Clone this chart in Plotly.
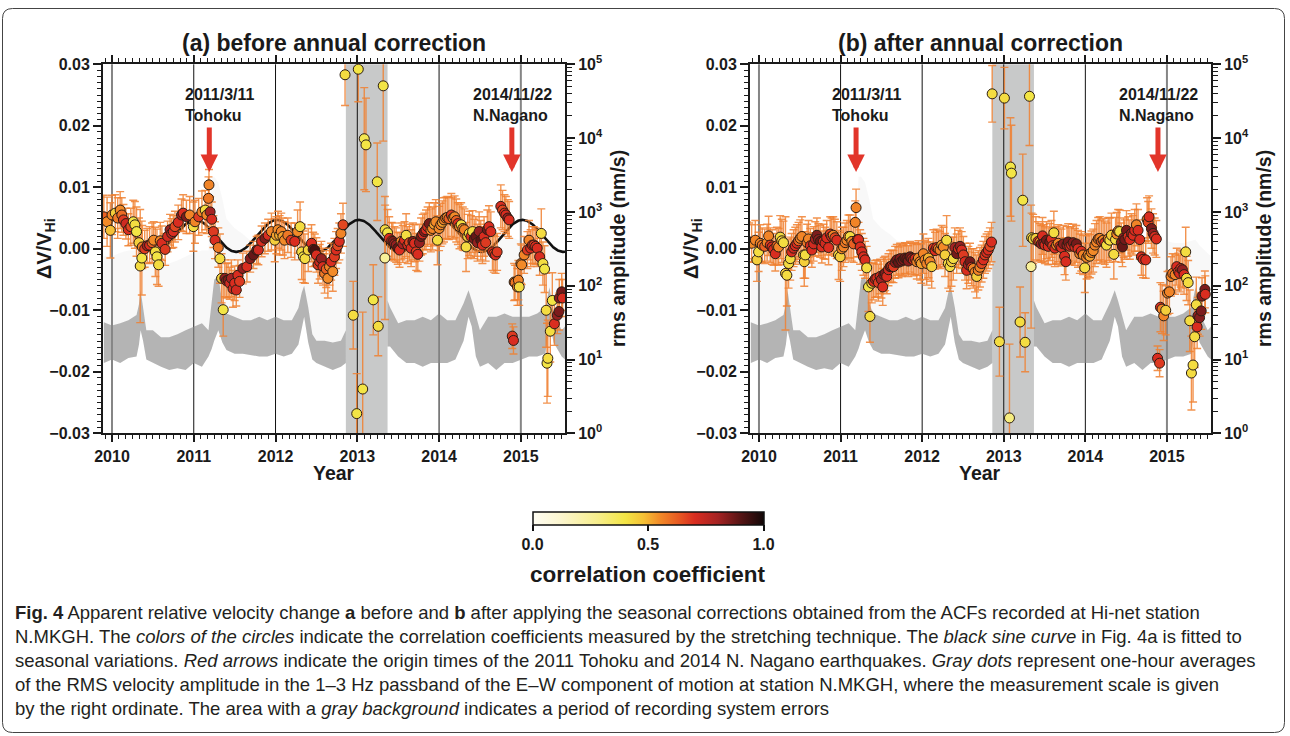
import numpy as np
import plotly.graph_objects as go

W, H = 1290, 736
FONT = "Liberation Sans, Arial, sans-serif"
INK = "#1a1a1a"

# ---------------------------------------------------------------- data
# Panel (a): dV/V before the annual correction
year_a = [
    2009.90, 2009.94, 2009.98, 2010.00, 2010.04, 2010.07, 2010.10, 2010.12, 2010.14, 2010.17,
    2010.20, 2010.23, 2010.26, 2010.28, 2010.30, 2010.33, 2010.345, 2010.365, 2010.37, 2010.40,
    2010.43, 2010.46, 2010.49, 2010.51, 2010.53, 2010.55, 2010.57, 2010.59, 2010.61, 2010.65,
    2010.68, 2010.71, 2010.73, 2010.75, 2010.77, 2010.81, 2010.85, 2010.87, 2010.91, 2010.95,
    2010.995, 2011.015, 2011.06, 2011.10, 2011.14, 2011.16, 2011.18, 2011.186, 2011.20, 2011.22,
    2011.24, 2011.26, 2011.30, 2011.32, 2011.34, 2011.36, 2011.38, 2011.40, 2011.42, 2011.44,
    2011.46, 2011.48, 2011.50, 2011.52, 2011.54, 2011.56, 2011.60, 2011.65, 2011.69, 2011.73,
    2011.77, 2011.79, 2011.83, 2011.87, 2011.91, 2011.95, 2011.99, 2012.01, 2012.03, 2012.05,
    2012.07, 2012.09, 2012.11, 2012.15, 2012.19, 2012.235, 2012.27, 2012.30, 2012.32, 2012.34,
    2012.36, 2012.40, 2012.44, 2012.46, 2012.48, 2012.50, 2012.52, 2012.54, 2012.56, 2012.58,
    2012.60, 2012.62, 2012.64, 2012.66, 2012.68, 2012.70, 2012.72, 2012.74, 2012.76, 2012.78,
    2012.80, 2012.825, 2012.85, 2012.95, 2012.993, 2013.012, 2013.066, 2013.085, 2013.106, 2013.195,
    2013.244, 2013.256, 2013.317, 2013.338, 2013.34, 2013.37, 2013.39, 2013.42, 2013.435, 2013.455,
    2013.475, 2013.495, 2013.516, 2013.536, 2013.556, 2013.577, 2013.597, 2013.617, 2013.638, 2013.658,
    2013.68, 2013.70, 2013.72, 2013.74, 2013.76, 2013.78, 2013.80, 2013.82, 2013.84, 2013.86,
    2013.88, 2013.90, 2013.92, 2013.94, 2013.96, 2013.98, 2014.00, 2014.02, 2014.04, 2014.06,
    2014.08, 2014.10, 2014.12, 2014.15, 2014.17, 2014.19, 2014.21, 2014.23, 2014.25, 2014.27,
    2014.29, 2014.31, 2014.33, 2014.35, 2014.37, 2014.39, 2014.41, 2014.43, 2014.45, 2014.47,
    2014.49, 2014.51, 2014.53, 2014.55, 2014.57, 2014.59, 2014.61, 2014.633, 2014.653, 2014.67,
    2014.69, 2014.71, 2014.755, 2014.776, 2014.80, 2014.817, 2014.84, 2014.857, 2014.895, 2014.91,
    2014.918, 2014.93, 2014.958, 2014.97, 2014.98, 2015.00, 2015.01, 2015.04, 2015.08, 2015.10,
    2015.12, 2015.14, 2015.16, 2015.18, 2015.20, 2015.23, 2015.25, 2015.27, 2015.29, 2015.31,
    2015.32, 2015.33, 2015.36, 2015.385, 2015.41, 2015.446, 2015.466, 2015.47, 2015.50, 2015.51,
]
dv_a = [
    0.0052, 0.0044, 0.0030, 0.0055, 0.0058, 0.0050, 0.0063, 0.0055, 0.0047, 0.0041,
    0.0031, 0.0036, 0.0044, 0.0039, 0.0028, 0.0010, -0.0028, -0.0015, 0.0003, 0.0000,
    0.0005, 0.0006, 0.0010, 0.0014, -0.0005, -0.0013, -0.0026, 0.0013, 0.0009, -0.0001,
    0.0020, 0.0031, 0.0025, 0.0028, 0.0036, 0.0043, 0.0055, 0.0058, 0.0052, 0.0055,
    0.0036, 0.0044, 0.0052, 0.0060, 0.0063, 0.0055, 0.0082, 0.0104, 0.0060, 0.0048,
    0.0028, 0.0014, 0.0002, -0.0016, -0.0048, -0.0099, -0.0048, -0.0052, -0.0051, -0.0056,
    -0.0048, -0.0065, -0.0056, -0.0067, -0.0043, -0.0053, -0.0032, -0.0029, -0.0016, -0.0010,
    -0.0002, -0.0002, 0.0012, 0.0017, 0.0022, 0.0028, 0.0014, 0.0022, 0.0031, 0.0022,
    0.0028, 0.0020, 0.0014, 0.0022, 0.0014, 0.0012, 0.0028, 0.0036, -0.0005, -0.0013,
    -0.0016, -0.0002, 0.0009, -0.0001, -0.0002, -0.0010, -0.0026, -0.0021, -0.0016, -0.0029,
    -0.0040, -0.0033, -0.0048, -0.0029, -0.0021, -0.0037, -0.0013, -0.0002, 0.0005, 0.0012,
    0.0025, 0.0039, 0.0283, -0.0108, -0.0268, 0.0292, -0.0228, 0.0179, 0.0169, -0.0083,
    0.0109, -0.0126, 0.0265, -0.0015, 0.0031, 0.0026, 0.0017, 0.0013, 0.0012, 0.0008,
    0.0006, 0.0001, -0.0002, 0.0012, 0.0008, 0.0014, 0.0022, 0.0006, 0.0010, 0.0001,
    0.0012, 0.0009, -0.0005, -0.0009, 0.0010, 0.0020, 0.0024, 0.0028, 0.0031, 0.0036,
    0.0041, 0.0030, 0.0033, 0.0040, 0.0044, 0.0014, 0.0033, 0.0039, 0.0043, 0.0047,
    0.0050, 0.0051, 0.0049, 0.0055, 0.0050, 0.0052, 0.0046, 0.0041, 0.0036, 0.0039,
    0.0033, 0.0031, 0.0003, 0.0020, 0.0025, 0.0020, 0.0028, 0.0016, 0.0020, 0.0010,
    0.0028, 0.0014, 0.0006, 0.0020, 0.0010, 0.0031, 0.0036, 0.0028, -0.0005, -0.0008,
    -0.0010, -0.0005, 0.0069, 0.0063, 0.0058, 0.0055, 0.0050, 0.0047, -0.0142, -0.0149,
    -0.0054, -0.0055, -0.0062, -0.0051, -0.0062, -0.0024, -0.0026, -0.0010, -0.0002, 0.0014,
    0.0001, 0.0006, 0.0006, 0.0004, 0.0001, -0.0013, 0.0025, -0.0024, -0.0033, -0.0100,
    -0.0186, -0.0178, -0.0134, -0.0084, -0.0122, -0.0108, -0.0102, -0.0080, -0.0070, -0.0080,
]
err_a = [
    0.0035, 0.0040, 0.0045, 0.0032, 0.0030, 0.0033, 0.0030, 0.0028, 0.0025, 0.0025,
    0.0026, 0.0030, 0.0035, 0.0038, 0.0040, 0.0040, 0.0092, 0.0060, 0.0035, 0.0030,
    0.0028, 0.0030, 0.0032, 0.0030, 0.0040, 0.0045, 0.0035, 0.0030, 0.0028, 0.0026,
    0.0025, 0.0025, 0.0024, 0.0026, 0.0025, 0.0028, 0.0026, 0.0030, 0.0027, 0.0030,
    0.0040, 0.0035, 0.0030, 0.0034, 0.0032, 0.0030, 0.0035, 0.0025, 0.0025, 0.0028,
    0.0026, 0.0030, 0.0032, 0.0040, 0.0040, 0.0043, 0.0030, 0.0028, 0.0028, 0.0026,
    0.0030, 0.0030, 0.0028, 0.0026, 0.0025, 0.0026, 0.0025, 0.0025, 0.0022, 0.0022,
    0.0022, 0.0024, 0.0025, 0.0025, 0.0026, 0.0030, 0.0035, 0.0030, 0.0030, 0.0032,
    0.0030, 0.0030, 0.0030, 0.0028, 0.0028, 0.0030, 0.0035, 0.0040, 0.0045, 0.0042,
    0.0040, 0.0035, 0.0030, 0.0028, 0.0026, 0.0028, 0.0030, 0.0028, 0.0028, 0.0030,
    0.0032, 0.0030, 0.0032, 0.0030, 0.0030, 0.0032, 0.0030, 0.0030, 0.0028, 0.0030,
    0.0032, 0.0035, 0.0050, 0.0055, 0.0065, 0.0053, 0.0125, 0.0083, 0.0076, 0.0057,
    0.0063, 0.0048, 0.0090, 0.0100, 0.0040, 0.0038, 0.0035, 0.0030, 0.0030, 0.0028,
    0.0028, 0.0026, 0.0028, 0.0030, 0.0030, 0.0030, 0.0035, 0.0030, 0.0030, 0.0030,
    0.0030, 0.0030, 0.0030, 0.0028, 0.0030, 0.0030, 0.0032, 0.0030, 0.0032, 0.0032,
    0.0034, 0.0035, 0.0035, 0.0035, 0.0036, 0.0040, 0.0036, 0.0035, 0.0035, 0.0036,
    0.0034, 0.0034, 0.0034, 0.0035, 0.0034, 0.0034, 0.0035, 0.0034, 0.0036, 0.0036,
    0.0035, 0.0034, 0.0040, 0.0036, 0.0036, 0.0034, 0.0034, 0.0032, 0.0032, 0.0030,
    0.0032, 0.0032, 0.0030, 0.0032, 0.0030, 0.0032, 0.0034, 0.0032, 0.0030, 0.0030,
    0.0030, 0.0030, 0.0035, 0.0032, 0.0030, 0.0030, 0.0030, 0.0030, 0.0020, 0.0022,
    0.0030, 0.0028, 0.0030, 0.0032, 0.0030, 0.0032, 0.0032, 0.0030, 0.0030, 0.0032,
    0.0030, 0.0030, 0.0030, 0.0030, 0.0030, 0.0030, 0.0040, 0.0035, 0.0038, 0.0060,
    0.0065, 0.0062, 0.0050, 0.0045, 0.0035, 0.0030, 0.0030, 0.0030, 0.0030, 0.0030,
]
cc_a = [
    0.62, 0.55, 0.48, 0.56, 0.45, 0.58, 0.55, 0.60, 0.68, 0.72,
    0.70, 0.66, 0.40, 0.42, 0.40, 0.45, 0.42, 0.40, 0.56, 0.68,
    0.80, 0.70, 0.62, 0.55, 0.42, 0.40, 0.42, 0.56, 0.70, 0.68,
    0.72, 0.82, 0.75, 0.70, 0.66, 0.70, 0.82, 0.70, 0.85, 0.56,
    0.42, 0.56, 0.68, 0.56, 0.42, 0.55, 0.58, 0.56, 0.80, 0.70,
    0.68, 0.70, 0.58, 0.42, 0.44, 0.40, 0.82, 0.80, 0.85, 0.72,
    0.80, 0.70, 0.70, 0.72, 0.70, 0.68, 0.82, 0.70, 0.84, 0.88,
    0.86, 0.72, 0.70, 0.85, 0.70, 0.56, 0.45, 0.52, 0.55, 0.50,
    0.56, 0.52, 0.55, 0.58, 0.68, 0.70, 0.55, 0.42, 0.42, 0.40,
    0.42, 0.44, 0.70, 0.86, 0.92, 0.70, 0.68, 0.72, 0.82, 0.70,
    0.58, 0.62, 0.55, 0.56, 0.70, 0.55, 0.68, 0.70, 0.66, 0.70,
    0.56, 0.66, 0.42, 0.42, 0.40, 0.40, 0.40, 0.38, 0.40, 0.40,
    0.40, 0.42, 0.40, 0.25, 0.42, 0.40, 0.70, 0.66, 0.85, 0.80,
    0.82, 0.88, 0.70, 0.56, 0.80, 0.70, 0.42, 0.70, 0.66, 0.70,
    0.84, 0.70, 0.68, 0.70, 0.82, 0.86, 0.72, 0.84, 0.70, 0.70,
    0.86, 0.56, 0.56, 0.52, 0.55, 0.42, 0.55, 0.56, 0.52, 0.56,
    0.58, 0.55, 0.62, 0.68, 0.56, 0.55, 0.62, 0.70, 0.56, 0.42,
    0.55, 0.56, 0.42, 0.45, 0.42, 0.70, 0.42, 0.85, 0.88, 0.82,
    0.82, 0.90, 0.70, 0.70, 0.68, 0.86, 0.70, 0.70, 0.70, 0.66,
    0.70, 0.68, 0.70, 0.66, 0.70, 0.70, 0.82, 0.70, 0.68, 0.70,
    0.56, 0.58, 0.55, 0.56, 0.42, 0.56, 0.55, 0.56, 0.68, 0.56,
    0.70, 0.70, 0.68, 0.70, 0.70, 0.70, 0.42, 0.42, 0.40, 0.42,
    0.40, 0.42, 0.42, 0.40, 0.70, 0.82, 0.85, 0.84, 0.86, 0.70,
]

# Panel (b): dV/V after the annual correction
year_b = [
    2009.85, 2009.88, 2009.91, 2009.955, 2009.975, 2009.995, 2010.016, 2010.04, 2010.07, 2010.10,
    2010.118, 2010.138, 2010.16, 2010.179, 2010.20, 2010.22, 2010.24, 2010.26, 2010.28, 2010.30,
    2010.325, 2010.342, 2010.363, 2010.383, 2010.40, 2010.424, 2010.445, 2010.465, 2010.485, 2010.505,
    2010.526, 2010.547, 2010.555, 2010.567, 2010.59, 2010.607, 2010.63, 2010.648, 2010.67, 2010.69,
    2010.71, 2010.73, 2010.75, 2010.77, 2010.79, 2010.81, 2010.83, 2010.853, 2010.873, 2010.89,
    2010.91, 2010.93, 2010.954, 2010.975, 2010.995, 2011.015, 2011.036, 2011.056, 2011.077, 2011.097,
    2011.117, 2011.138, 2011.16, 2011.18, 2011.19, 2011.205, 2011.22, 2011.24, 2011.26, 2011.28,
    2011.30, 2011.32, 2011.342, 2011.36, 2011.383, 2011.403, 2011.424, 2011.444, 2011.464, 2011.485,
    2011.50, 2011.517, 2011.53, 2011.546, 2011.566, 2011.587, 2011.607, 2011.627, 2011.648, 2011.669,
    2011.689, 2011.71, 2011.73, 2011.75, 2011.77, 2011.79, 2011.811, 2011.83, 2011.852, 2011.873,
    2011.893, 2011.913, 2011.934, 2011.954, 2011.974, 2011.99, 2012.015, 2012.035, 2012.056, 2012.077,
    2012.097, 2012.117, 2012.137, 2012.158, 2012.178, 2012.198, 2012.219, 2012.24, 2012.26, 2012.28,
    2012.30, 2012.32, 2012.341, 2012.36, 2012.382, 2012.40, 2012.423, 2012.444, 2012.464, 2012.485,
    2012.505, 2012.525, 2012.545, 2012.566, 2012.586, 2012.607, 2012.627, 2012.648, 2012.668, 2012.688,
    2012.708, 2012.729, 2012.75, 2012.77, 2012.79, 2012.81, 2012.83, 2012.85, 2012.858, 2012.947,
    2013.008, 2013.07, 2013.082, 2013.094, 2013.2, 2013.233, 2013.262, 2013.315, 2013.335, 2013.341,
    2013.36, 2013.394, 2013.42, 2013.443, 2013.46, 2013.475, 2013.49, 2013.504, 2013.524, 2013.545,
    2013.565, 2013.585, 2013.60, 2013.614, 2013.626, 2013.647, 2013.667, 2013.688, 2013.708, 2013.73,
    2013.745, 2013.761, 2013.775, 2013.79, 2013.81, 2013.831, 2013.85, 2013.872, 2013.89, 2013.91,
    2013.932, 2013.95, 2013.973, 2013.993, 2014.015, 2014.034, 2014.055, 2014.075, 2014.096, 2014.117,
    2014.137, 2014.157, 2014.177, 2014.198, 2014.218, 2014.238, 2014.259, 2014.28, 2014.30, 2014.32,
    2014.349, 2014.37, 2014.385, 2014.402, 2014.42, 2014.44, 2014.455, 2014.47, 2014.483, 2014.504,
    2014.525, 2014.545, 2014.565, 2014.585, 2014.605, 2014.626, 2014.646, 2014.667, 2014.687, 2014.708,
    2014.74, 2014.757, 2014.77, 2014.781, 2014.81, 2014.83, 2014.85, 2014.87, 2014.885, 2014.91,
    2014.92, 2014.94, 2014.96, 2014.985, 2015.007, 2015.03, 2015.05, 2015.07, 2015.10, 2015.12,
    2015.14, 2015.155, 2015.17, 2015.19, 2015.21, 2015.23, 2015.24, 2015.26, 2015.28, 2015.30,
    2015.32, 2015.34, 2015.36, 2015.37, 2015.38, 2015.40, 2015.42, 2015.43, 2015.465, 2015.47,
]
dv_b = [
    0.0014, 0.0010, 0.0009, 0.0014, -0.0018, -0.0005, 0.0009, 0.0006, 0.0004, 0.0010,
    0.0021, 0.0006, 0.0003, -0.0001, -0.0008, 0.0005, 0.0003, 0.0019, 0.0013, 0.0010,
    -0.0040, -0.0043, -0.0024, -0.0016, -0.0005, 0.0001, 0.0005, 0.0009, 0.0013, 0.0017,
    0.0020, -0.0010, -0.0021, -0.0010, 0.0010, 0.0016, 0.0005, -0.0002, 0.0008, 0.0016,
    0.0022, 0.0015, 0.0012, 0.0003, 0.0012, 0.0009, 0.0018, 0.0002, 0.0024, 0.0020,
    0.0022, 0.0018, 0.0014, -0.0010, -0.0013, 0.0000, 0.0003, 0.0010, 0.0014, 0.0020,
    0.0020, 0.0012, 0.0008, 0.0043, 0.0067, 0.0015, 0.0015, 0.0003, -0.0005, -0.0013,
    -0.0018, -0.0031, -0.0062, -0.0110, -0.0056, -0.0053, -0.0049, -0.0048, -0.0055, -0.0045,
    -0.0050, -0.0062, -0.0042, -0.0040, -0.0045, -0.0034, -0.0029, -0.0028, -0.0029, -0.0022,
    -0.0018, -0.0022, -0.0016, -0.0020, -0.0018, -0.0015, -0.0016, -0.0020, -0.0013, -0.0016,
    -0.0018, -0.0016, -0.0021, -0.0015, -0.0021, -0.0024, -0.0008, -0.0018, -0.0024, -0.0015,
    -0.0021, -0.0029, 0.0001, -0.0003, 0.0002, 0.0000, -0.0002, 0.0006, 0.0003, -0.0010,
    0.0014, -0.0024, -0.0029, -0.0021, -0.0016, 0.0002, -0.0008, 0.0000, 0.0004, -0.0002,
    -0.0010, -0.0021, -0.0035, -0.0026, -0.0021, -0.0030, -0.0032, -0.0038, -0.0045, -0.0035,
    -0.0030, -0.0024, -0.0018, -0.0010, -0.0006, -0.0002, 0.0004, 0.0011, 0.0252, -0.0151,
    0.0245, -0.0275, 0.0133, 0.0123, -0.0119, 0.0079, -0.0152, 0.0248, -0.0029, 0.0018,
    0.0016, 0.0017, 0.0012, 0.0011, 0.0008, 0.0021, 0.0009, 0.0006, 0.0014, 0.0004,
    0.0011, 0.0016, 0.0005, 0.0026, 0.0001, 0.0006, 0.0009, 0.0004, 0.0002, 0.0008,
    -0.0012, -0.0021, 0.0006, 0.0011, 0.0004, 0.0006, 0.0010, 0.0003, 0.0008, 0.0000,
    -0.0008, -0.0004, -0.0010, -0.0031, -0.0014, -0.0010, -0.0012, -0.0006, -0.0003, 0.0006,
    0.0011, 0.0016, 0.0017, 0.0012, 0.0014, 0.0010, 0.0006, 0.0016, 0.0014, 0.0022,
    -0.0009, 0.0015, 0.0024, 0.0029, 0.0028, 0.0010, 0.0003, 0.0018, 0.0015, 0.0030,
    0.0020, 0.0015, 0.0025, 0.0022, 0.0030, 0.0039, 0.0030, 0.0015, -0.0013, -0.0017,
    -0.0018, 0.0048, 0.0043, 0.0052, 0.0033, 0.0025, 0.0020, 0.0016, -0.0178, -0.0186,
    -0.0095, -0.0098, -0.0109, -0.0100, -0.0072, -0.0070, -0.0045, -0.0040, -0.0042, -0.0029,
    -0.0037, -0.0040, -0.0032, -0.0034, -0.0042, -0.0005, -0.0048, -0.0055, -0.0117, -0.0202,
    -0.0189, -0.0143, -0.0091, -0.0127, -0.0109, -0.0112, -0.0101, -0.0077, -0.0066, -0.0074,
]
err_b = [
    0.0030, 0.0032, 0.0030, 0.0032, 0.0035, 0.0032, 0.0030, 0.0028, 0.0028, 0.0030,
    0.0032, 0.0028, 0.0028, 0.0026, 0.0028, 0.0030, 0.0030, 0.0035, 0.0035, 0.0035,
    0.0092, 0.0050, 0.0040, 0.0035, 0.0030, 0.0030, 0.0030, 0.0030, 0.0030, 0.0030,
    0.0032, 0.0038, 0.0040, 0.0038, 0.0030, 0.0030, 0.0028, 0.0028, 0.0028, 0.0028,
    0.0028, 0.0026, 0.0026, 0.0026, 0.0028, 0.0026, 0.0028, 0.0028, 0.0028, 0.0030,
    0.0030, 0.0030, 0.0030, 0.0040, 0.0040, 0.0035, 0.0032, 0.0032, 0.0032, 0.0035,
    0.0035, 0.0032, 0.0030, 0.0035, 0.0030, 0.0028, 0.0028, 0.0028, 0.0030, 0.0030,
    0.0030, 0.0035, 0.0040, 0.0042, 0.0032, 0.0030, 0.0030, 0.0030, 0.0030, 0.0028,
    0.0030, 0.0030, 0.0028, 0.0028, 0.0028, 0.0026, 0.0026, 0.0026, 0.0026, 0.0026,
    0.0025, 0.0025, 0.0025, 0.0025, 0.0025, 0.0025, 0.0025, 0.0025, 0.0025, 0.0025,
    0.0026, 0.0026, 0.0028, 0.0028, 0.0030, 0.0032, 0.0032, 0.0032, 0.0035, 0.0032,
    0.0032, 0.0035, 0.0030, 0.0030, 0.0030, 0.0030, 0.0030, 0.0032, 0.0032, 0.0035,
    0.0040, 0.0040, 0.0040, 0.0040, 0.0035, 0.0032, 0.0032, 0.0030, 0.0030, 0.0030,
    0.0030, 0.0030, 0.0030, 0.0030, 0.0030, 0.0030, 0.0032, 0.0032, 0.0035, 0.0032,
    0.0032, 0.0030, 0.0030, 0.0030, 0.0030, 0.0030, 0.0030, 0.0032, 0.0046, 0.0056,
    0.0050, 0.0120, 0.0080, 0.0078, 0.0057, 0.0075, 0.0048, 0.0080, 0.0100, 0.0040,
    0.0040, 0.0035, 0.0032, 0.0030, 0.0030, 0.0030, 0.0030, 0.0030, 0.0030, 0.0030,
    0.0030, 0.0030, 0.0030, 0.0035, 0.0030, 0.0030, 0.0030, 0.0030, 0.0030, 0.0030,
    0.0030, 0.0030, 0.0030, 0.0030, 0.0030, 0.0030, 0.0030, 0.0030, 0.0030, 0.0030,
    0.0032, 0.0032, 0.0032, 0.0040, 0.0035, 0.0035, 0.0035, 0.0035, 0.0035, 0.0035,
    0.0035, 0.0035, 0.0035, 0.0035, 0.0035, 0.0035, 0.0036, 0.0035, 0.0036, 0.0036,
    0.0040, 0.0036, 0.0035, 0.0035, 0.0035, 0.0032, 0.0032, 0.0032, 0.0032, 0.0032,
    0.0032, 0.0032, 0.0032, 0.0032, 0.0034, 0.0034, 0.0034, 0.0032, 0.0030, 0.0030,
    0.0030, 0.0035, 0.0034, 0.0034, 0.0032, 0.0032, 0.0030, 0.0030, 0.0020, 0.0022,
    0.0040, 0.0040, 0.0040, 0.0040, 0.0035, 0.0035, 0.0032, 0.0032, 0.0032, 0.0030,
    0.0030, 0.0030, 0.0030, 0.0030, 0.0032, 0.0040, 0.0036, 0.0036, 0.0050, 0.0060,
    0.0060, 0.0050, 0.0045, 0.0035, 0.0030, 0.0030, 0.0030, 0.0030, 0.0030, 0.0030,
]
cc_b = [
    0.62, 0.56, 0.55, 0.56, 0.45, 0.42, 0.56, 0.58, 0.62, 0.56,
    0.56, 0.68, 0.70, 0.70, 0.70, 0.62, 0.56, 0.42, 0.44, 0.42,
    0.45, 0.42, 0.42, 0.42, 0.70, 0.72, 0.70, 0.70, 0.62, 0.56,
    0.56, 0.42, 0.45, 0.42, 0.58, 0.56, 0.70, 0.70, 0.72, 0.80,
    0.85, 0.82, 0.88, 0.70, 0.70, 0.72, 0.70, 0.70, 0.68, 0.70,
    0.56, 0.66, 0.70, 0.42, 0.45, 0.55, 0.56, 0.58, 0.56, 0.56,
    0.42, 0.55, 0.62, 0.56, 0.56, 0.68, 0.70, 0.70, 0.70, 0.70,
    0.70, 0.42, 0.40, 0.42, 0.45, 0.70, 0.72, 0.70, 0.68, 0.72,
    0.80, 0.70, 0.82, 0.85, 0.70, 0.72, 0.86, 0.70, 0.68, 0.84,
    0.86, 0.88, 0.85, 0.84, 0.86, 0.85, 0.88, 0.84, 0.86, 0.80,
    0.70, 0.72, 0.56, 0.55, 0.56, 0.52, 0.56, 0.56, 0.56, 0.50,
    0.56, 0.45, 0.68, 0.70, 0.70, 0.56, 0.56, 0.52, 0.55, 0.45,
    0.42, 0.42, 0.42, 0.45, 0.42, 0.80, 0.86, 0.70, 0.82, 0.70,
    0.68, 0.70, 0.70, 0.80, 0.86, 0.70, 0.56, 0.56, 0.45, 0.56,
    0.56, 0.66, 0.70, 0.68, 0.70, 0.70, 0.66, 0.70, 0.42, 0.42,
    0.42, 0.30, 0.40, 0.40, 0.42, 0.40, 0.42, 0.40, 0.25, 0.42,
    0.42, 0.45, 0.70, 0.56, 0.82, 0.70, 0.82, 0.70, 0.86, 0.70,
    0.85, 0.70, 0.68, 0.42, 0.70, 0.56, 0.56, 0.70, 0.70, 0.84,
    0.70, 0.70, 0.82, 0.86, 0.70, 0.70, 0.84, 0.70, 0.86, 0.70,
    0.56, 0.70, 0.56, 0.42, 0.56, 0.56, 0.52, 0.56, 0.55, 0.56,
    0.56, 0.58, 0.56, 0.62, 0.56, 0.70, 0.42, 0.56, 0.42, 0.45,
    0.42, 0.42, 0.56, 0.56, 0.42, 0.85, 0.88, 0.82, 0.86, 0.86,
    0.70, 0.70, 0.82, 0.70, 0.70, 0.56, 0.70, 0.70, 0.70, 0.70,
    0.70, 0.56, 0.66, 0.70, 0.85, 0.82, 0.70, 0.70, 0.70, 0.68,
    0.70, 0.56, 0.56, 0.45, 0.56, 0.56, 0.56, 0.58, 0.56, 0.70,
    0.68, 0.70, 0.70, 0.82, 0.70, 0.42, 0.42, 0.42, 0.42, 0.42,
    0.42, 0.42, 0.42, 0.70, 0.82, 0.84, 0.85, 0.84, 0.85, 0.70,
]

# Hourly RMS amplitude (nm/s): dense core (lo..hi) and sparse upper scatter (top)
rms_year = [
    2009.90, 2010.00, 2010.10, 2010.20, 2010.30, 2010.33, 2010.35, 2010.38, 2010.42, 2010.50,
    2010.60, 2010.70, 2010.80, 2010.90, 2011.00, 2011.10, 2011.18, 2011.22, 2011.25, 2011.30,
    2011.35, 2011.40, 2011.50, 2011.60, 2011.70, 2011.80, 2011.90, 2012.00, 2012.10, 2012.20,
    2012.28, 2012.32, 2012.35, 2012.40, 2012.45, 2012.50, 2012.60, 2012.70, 2012.80, 2012.86,
    2013.37, 2013.40, 2013.50, 2013.60, 2013.70, 2013.80, 2013.90, 2014.00, 2014.10, 2014.20,
    2014.30, 2014.36, 2014.40, 2014.45, 2014.50, 2014.60, 2014.70, 2014.80, 2014.90, 2015.00,
    2015.10, 2015.20, 2015.30, 2015.35, 2015.40, 2015.50, 2015.54,
]
rms_lo = [
    9, 10, 9, 10.5, 11, 16, 25, 18, 10, 9,
    8, 7.2, 7.6, 7.2, 9, 8, 11, 14, 18, 25,
    17, 13.5, 12, 12, 11.5, 11, 11, 12, 11, 12,
    16, 25, 38, 17, 10, 9, 8, 7.2, 8, 9,
    15, 15, 11, 9, 9, 8, 9, 9, 9, 10,
    18, 38, 28, 11, 8, 9, 7.2, 9, 9, 10,
    11, 11, 12, 34, 17, 11, 10,
]
rms_hi = [
    32, 29, 31, 34, 40, 56, 87, 51, 25, 25,
    20, 20, 22, 25, 28, 31, 25, 60, 120, 138,
    58, 42, 38, 34, 34, 38, 34, 38, 34, 34,
    50, 80, 100, 51, 22, 18, 18, 17, 18, 25,
    63, 51, 31, 34, 34, 38, 34, 42, 34, 34,
    58, 87, 63, 38, 25, 38, 38, 42, 38, 38,
    38, 42, 51, 95, 42, 25, 28,
]
rms_top = [
    250, 250, 280, 300, 300, 350, 400, 300, 220, 200,
    200, 200, 220, 250, 280, 300, 300, 3000, 3000, 2500,
    1500, 800, 600, 500, 400, 400, 400, 400, 400, 400,
    450, 550, 600, 400, 250, 230, 220, 220, 230, 250,
    500, 450, 400, 400, 380, 380, 380, 400, 380, 380,
    450, 500, 450, 400, 380, 400, 400, 420, 450, 400,
    380, 380, 400, 420, 350, 280, 250,
]

for label, arrays in (("a", (year_a, dv_a, err_a, cc_a)),
                      ("b", (year_b, dv_b, err_b, cc_b)),
                      ("rms", (rms_year, rms_lo, rms_hi, rms_top))):
    if len({len(a) for a in arrays}) != 1:
        raise ValueError(f"series {label}: array lengths differ")

years = [2010, 2011, 2012, 2013, 2014, 2015]
dv_ticks = [-0.03, -0.02, -0.01, 0.0, 0.01, 0.02, 0.03]
dv_labels = ["\u22120.03", "\u22120.02", "\u22120.01", "0.00", "0.01", "0.02", "0.03"]
rms_ticks = [1, 10, 100, 1e3, 1e4, 1e5]
rms_labels = [f"10<sup>{e}</sup>" for e in range(6)]

gap_start, gap_end = 2012.86, 2013.37          # recording-system error period
events = [(2011.19, "2011/3/11<br>Tohoku", -26), (2014.89, "2014/11/22<br>N.Nagano", -41)]

# annual sine fitted to panel (a)
sine_offset, sine_amp, sine_peak = 0.0021, 0.0026, 0.02

X_RANGE = [2009.89, 2015.54]

# ---------------------------------------------------------------- layout helpers
def fx(px):
    return px / W


def fy(py):
    return 1 - py / H


PLOT_TOP, PLOT_BOT = 64.3, 433.3
Y_DOMAIN = [fy(PLOT_BOT), fy(PLOT_TOP)]
PANEL_PX = {"a": (103, 565), "b": (750, 1211)}

CSCALE = [
    [0.00, "#fffdf3"], [0.12, "#fcf6cf"], [0.28, "#f7ee8c"], [0.40, "#f3e545"],
    [0.48, "#f5c035"], [0.55, "#f28a28"], [0.63, "#e85a22"], [0.70, "#d92d20"],
    [0.80, "#a52323"], [0.90, "#551414"], [1.00, "#110707"],
]


def band(xs, upper, lower):
    """Closed polygons (split at the error period) between two envelopes."""
    px, py = [], []
    for keep in (lambda t: t <= gap_start, lambda t: t >= gap_end):
        idx = [i for i, t in enumerate(xs) if keep(t)]
        sx = [xs[i] for i in idx]
        px += sx + sx[::-1] + [None]
        py += [upper[i] for i in idx] + [lower[i] for i in idx][::-1] + [None]
    return px, py


fig = go.Figure()


def add_panel(xa, ylog, ylin, yrs, dv, err, cc, show_scale, with_sine):
    hx, hy = band(rms_year, rms_top, rms_lo)
    fig.add_trace(go.Scatter(x=hx, y=hy, xaxis=xa, yaxis=ylog, mode="lines", fill="toself",
                             fillcolor="rgba(150,150,150,0.07)", line=dict(width=0),
                             hoverinfo="skip", showlegend=False))
    cx, cy = band(rms_year, rms_hi, rms_lo)
    fig.add_trace(go.Scatter(x=cx, y=cy, xaxis=xa, yaxis=ylog, mode="lines", fill="toself",
                             fillcolor="rgba(135,135,135,0.6)", line=dict(width=0),
                             hoverinfo="skip", showlegend=False))
    if with_sine:
        t = np.linspace(X_RANGE[0], X_RANGE[1], 800)
        fig.add_trace(go.Scatter(x=t, y=sine_offset + sine_amp * np.cos(2 * np.pi * (t - sine_peak)),
                                 xaxis=xa, yaxis=ylin, mode="lines",
                                 line=dict(color="#111111", width=2.6),
                                 hoverinfo="skip", showlegend=False))
    marker = dict(color=cc, colorscale=CSCALE, cmin=0, cmax=1, size=10,
                  line=dict(color="#2b1d14", width=1), showscale=show_scale)
    if show_scale:
        marker["colorbar"] = dict(
            orientation="h", x=fx(648), xanchor="center", y=fy(512), yanchor="top",
            xpad=0, ypad=0, lenmode="pixels", len=231, thicknessmode="pixels", thickness=13,
            outlinewidth=1.5, outlinecolor="#111111",
            tickmode="array", tickvals=[0, 0.5, 1], ticktext=["0.0", "0.5", "1.0"],
            ticks="outside", ticklen=6, tickwidth=1.5, tickcolor="#111111",
            tickfont=dict(family=FONT, size=16, weight="bold", color=INK),
        )
    fig.add_trace(go.Scatter(
        x=yrs, y=dv, xaxis=xa, yaxis=ylin, mode="markers",
        error_y=dict(type="data", array=err, color="rgba(240,128,48,0.85)", thickness=1.4, width=4),
        marker=marker, hoverinfo="skip", showlegend=False))


add_panel("x", "y", "y2", year_a, dv_a, err_a, cc_a, True, True)
add_panel("x2", "y3", "y4", year_b, dv_b, err_b, cc_b, False, False)

tickfont = dict(family=FONT, size=16, weight="bold", color=INK)


def x_axis(panel, anchor):
    l, r = PANEL_PX[panel]
    return dict(domain=[fx(l), fx(r)], anchor=anchor, range=X_RANGE,
                tickmode="linear", tick0=2010, dtick=1, ticks="outside", ticklen=7,
                tickwidth=1.5, tickcolor=INK, showline=True, linewidth=2, linecolor=INK,
                mirror="ticks", showgrid=False, zeroline=False, tickfont=tickfont,
                minor=dict(tickmode="linear", tick0=2010, dtick=1 / 12, ticks="outside",
                           ticklen=4, tickwidth=1, tickcolor=INK, showgrid=False))


def log_axis(anchor):
    minor_vals = [m * 10 ** e for e in range(5) for m in range(2, 10)]
    return dict(domain=Y_DOMAIN, anchor=anchor, type="log", range=[0, 5], side="right",
                tickmode="array", tickvals=rms_ticks, ticktext=rms_labels, ticks="outside",
                ticklen=8, tickwidth=1.5, tickcolor=INK, showline=True, linewidth=2,
                linecolor=INK, showgrid=False, zeroline=False, tickfont=tickfont,
                minor=dict(tickmode="array", tickvals=minor_vals, ticks="outside",
                           ticklen=4.5, tickwidth=1, tickcolor=INK, showgrid=False))


def dv_axis(base, anchor):
    return dict(overlaying=base, anchor=anchor, side="left", range=[-0.03, 0.03],
                tickmode="array", tickvals=dv_ticks, ticktext=dv_labels, ticks="outside",
                ticklen=8, tickwidth=1.5, tickcolor=INK, showline=True, linewidth=2,
                linecolor=INK, showgrid=False, zeroline=False, tickfont=tickfont,
                minor=dict(tickmode="linear", tick0=-0.03, dtick=0.001, ticks="outside",
                           ticklen=4.5, tickwidth=1, tickcolor=INK, showgrid=False))


# ---------------------------------------------------------------- shapes
shapes = []
for xa, yd in (("x", "y domain"), ("x2", "y3 domain")):
    shapes.append(dict(type="rect", xref=xa, yref=yd, x0=gap_start, x1=gap_end, y0=0, y1=1,
                       fillcolor="#c8c9c9", line=dict(width=0), layer="below"))
    for yr in years:
        edge = yr in (2010, 2015)
        shapes.append(dict(type="line", xref=xa, yref=yd, x0=yr, x1=yr, y0=0, y1=1,
                           line=dict(color="#858585" if edge else "#111111", width=2 if edge else 1),
                           layer="below"))

# rounded frame around the whole figure
L, T, R, B, rad = 2.5, 8.5, 1284.5, 732.5, 10
frame = (f"M {fx(L + rad)},{fy(T)} L {fx(R - rad)},{fy(T)} Q {fx(R)},{fy(T)} {fx(R)},{fy(T + rad)} "
         f"L {fx(R)},{fy(B - rad)} Q {fx(R)},{fy(B)} {fx(R - rad)},{fy(B)} "
         f"L {fx(L + rad)},{fy(B)} Q {fx(L)},{fy(B)} {fx(L)},{fy(B - rad)} "
         f"L {fx(L)},{fy(T + rad)} Q {fx(L)},{fy(T)} {fx(L + rad)},{fy(T)} Z")
shapes.append(dict(type="path", xref="paper", yref="paper", path=frame,
                   line=dict(color="#444444", width=1), fillcolor="rgba(0,0,0,0)"))

# ---------------------------------------------------------------- annotations
def text_at(text, px, py, size, **kw):
    d = dict(text=text, x=fx(px), y=fy(py), xref="paper", yref="paper", showarrow=False,
             xanchor="center", yanchor="middle", font=dict(family=FONT, size=size, color=INK))
    d.update(kw)
    return d


ann = []
for panel, title, xa, ylin in (("a", "(a) before annual correction", "x", "y2"),
                               ("b", "(b) after annual correction", "x2", "y4")):
    l, r = PANEL_PX[panel]
    mid = (l + r) / 2
    ann.append(text_at(f"<b>{title}</b>", mid, 43, 23))
    ann.append(text_at("<b>Year</b>", mid, 473, 19.5))
    ann.append(text_at("<b>\u0394V/V<sub>Hi</sub></b>", l - 57, 249, 20, textangle=-90))
    ann.append(text_at("<b>rms amplitude (nm/s)</b>", r + 53, 249, 19.5, textangle=-90))
    for when, label, shift in events:
        ann.append(dict(text="", x=when, y=0.0125, xref=xa, yref=ylin, showarrow=True,
                        ax=0, ay=-46, arrowhead=2, arrowsize=0.7, arrowwidth=5,
                        arrowcolor="#e2352a"))
        ann.append(dict(text=f"<b>{label}</b>", x=when, y=0.0234, xref=xa, yref=ylin,
                        xanchor="left", yanchor="middle", xshift=shift, align="left",
                        showarrow=False, font=dict(family=FONT, size=16, color=INK)))

ann.append(text_at("<b>correlation coefficient</b>", 648, 574, 22.5))

caption = [
    "<b>Fig. 4</b> Apparent relative velocity change <b>a</b> before and <b>b</b> after applying the "
    "seasonal corrections obtained from the ACFs recorded at Hi-net station",
    "N.MKGH. The <i>colors of the circles</i> indicate the correlation coefficients measured by the "
    "stretching technique. The <i>black sine curve</i> in Fig. 4a is fitted to",
    "seasonal variations. <i>Red arrows</i> indicate the origin times of the 2011 Tohoku and 2014 N. "
    "Nagano earthquakes. <i>Gray dots</i> represent one-hour averages",
    "of the RMS velocity amplitude in the 1\u20133 Hz passband of the E\u2013W component of motion at "
    "station N.MKGH, where the measurement scale is given",
    "by the right ordinate. The area with a <i>gray background</i> indicates a period of recording "
    "system errors",
]
for i, line in enumerate(caption):
    ann.append(dict(text=line, x=fx(13), y=fy(612 + 24.2 * i), xref="paper", yref="paper",
                    xanchor="left", yanchor="middle", showarrow=False, align="left",
                    font=dict(family=FONT, size=18.5, color="#231f20")))

fig.update_layout(
    width=W, height=H, margin=dict(l=0, r=0, t=0, b=0, pad=0, autoexpand=False),
    paper_bgcolor="white", plot_bgcolor="white", showlegend=False,
    font=dict(family=FONT, color=INK),
    xaxis=x_axis("a", "y"), yaxis=log_axis("x"), yaxis2=dv_axis("y", "x"),
    xaxis2=x_axis("b", "y3"), yaxis3=log_axis("x2"), yaxis4=dv_axis("y3", "x2"),
    shapes=shapes, annotations=ann,
)

fig.write_html("out.html")
